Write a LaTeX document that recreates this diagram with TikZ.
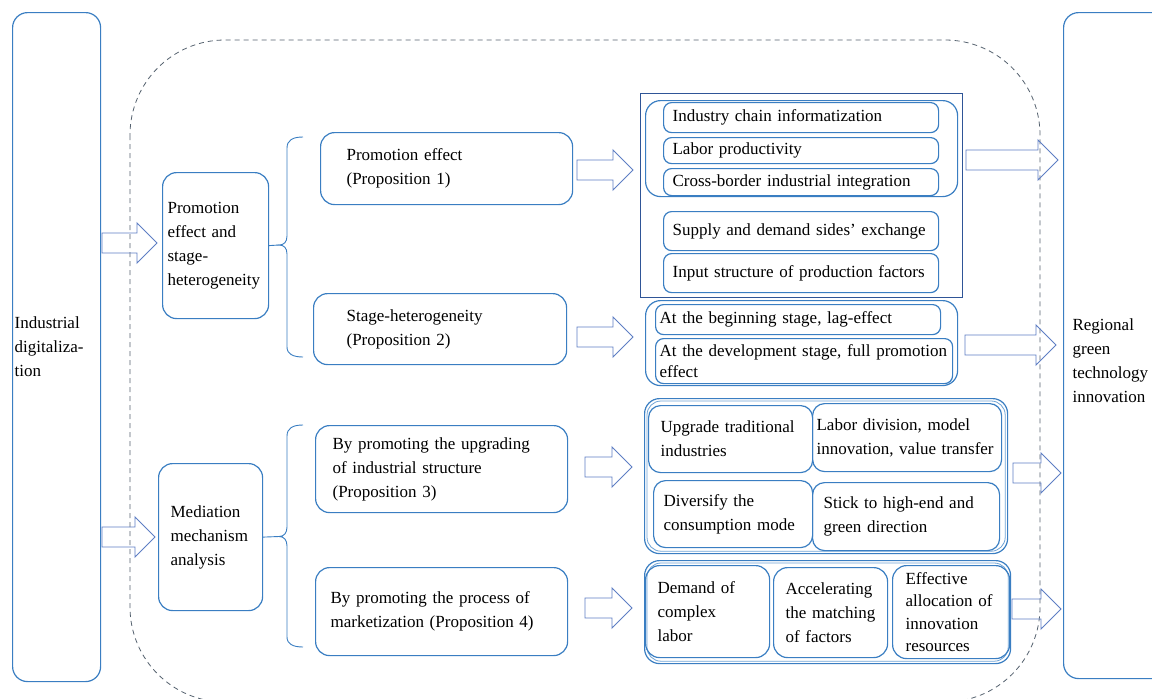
\documentclass[tikz,border=0pt]{standalone}
\usepackage{fontspec}
\setmainfont{Liberation Serif}
\usetikzlibrary{calc}
\definecolor{boxblue}{HTML}{3A7EC2}
\definecolor{boxlight}{HTML}{6FA3D6}
\definecolor{arrblue}{HTML}{5E7EC4}
\definecolor{sqblue}{HTML}{2F5597}
\definecolor{dashgray}{HTML}{55626F}
\newcommand{\dfont}{\hyphenpenalty=10000 \fontsize{17}{24}\selectfont}
\newcommand{\jfont}{\hyphenpenalty=10000 \fontsize{17}{21}\selectfont}
\newcommand{\mfont}{\hyphenpenalty=10000 \fontsize{17}{22.5}\selectfont}
\tikzset{
  bx/.style={draw=boxblue, line width=1.2pt, rounded corners=#1, inner sep=0pt,
             align=left, font=\dfont, text=black, anchor=north west},
  bx/.default=12pt,
  item/.style={bx=#1},
  item/.default=8pt,
  grp/.style={draw=boxblue, line width=1.2pt, rounded corners=15pt, inner sep=0pt, anchor=north west},
  blk/.style={draw=arrblue, line width=0.9pt,
    to path={let \p1=(\tikztostart), \p2=(\tikztotarget) in
      (\x1,\y1+10pt) -- (\x2-20pt,\y1+10pt) -- (\x2-20pt,\y1+20pt) -- (\x2,\y1)
      -- (\x2-20pt,\y1-20pt) -- (\x2-20pt,\y1-10pt) -- (\x1,\y1-10pt) -- cycle}},
  brc/.style={draw=boxblue, line width=0.9pt},
}
\begin{document}
\begin{tikzpicture}[x=1pt,y=-1pt]
\useasboundingbox (0,0) rectangle (1152,699);
\clip (0,0) rectangle (1152,699);
\fill[white] (0,0) rectangle (1152,699);

% dashed region
\draw[dashgray, line width=0.8pt, dash pattern=on 5pt off 4pt, rounded corners=95pt]
  (130,40) rectangle (1040,702);

% outer boxes
\node[bx=15pt, minimum width=88pt, minimum height=669pt, text width=84pt] (L) at (12,12)
  {Industrial\\digitaliza-\\tion};
\node[bx=15pt, minimum width=120pt, minimum height=666pt, text width=102pt] (R) at (1063,12)
  {\rule{0pt}{41pt}Regional\\green\\technology\\innovation};

% second level
\node[bx=14pt, minimum width=106pt, minimum height=146pt, text width=96pt] (A) at (162,172)
  {Promotion\\effect and\\stage-\\heterogeneity};
\node[bx=14pt, minimum width=104pt, minimum height=147pt, text width=80pt] (B) at (158,463)
  {Mediation\\mechanism\\analysis};

% propositions
\node[bx=14pt, minimum width=252pt, minimum height=72pt, text width=200pt] (P1) at (320,132)
  {Promotion effect\\(Proposition 1)};
\node[bx=14pt, minimum width=253pt, minimum height=71pt, text width=187pt] (P2) at (313,293)
  {Stage-heterogeneity\\(Proposition 2)};
\node[bx=14pt, minimum width=252pt, minimum height=87pt, text width=218pt] (P3) at (315,425)
  {By promoting the upgrading\\of industrial structure\\(Proposition 3)};
\node[bx=14pt, minimum width=252pt, minimum height=88pt, text width=222pt] (P4) at (315,567)
  {By promoting the process of\\marketization (Proposition 4)};

% group 1
\node[draw=sqblue, line width=0.9pt, inner sep=0pt, anchor=north west,
      minimum width=322pt, minimum height=204pt] (SQ) at (640,93) {};
\node[grp, minimum width=312pt, minimum height=96pt] (G1) at (645,100) {};
\node[item, minimum width=275pt, minimum height=30pt, text width=257pt] (I1) at (663,102)
  {Industry chain informatization};
\node[item, minimum width=275pt, minimum height=26pt, text width=257pt] (I2) at (663,137)
  {Labor productivity};
\node[item, minimum width=275pt, minimum height=27pt, text width=257pt] (I3) at (663,168)
  {Cross-border industrial integration};
\node[item, minimum width=275pt, minimum height=39pt, text width=257pt] (I4) at (663,211)
  {Supply and demand sides’ exchange};
\node[item, minimum width=275pt, minimum height=39pt, text width=257pt] (I5) at (663,253)
  {Input structure of production factors};

% group 2
\node[grp, minimum width=312pt, minimum height=85pt] (G2) at (645,300) {};
\node[item, minimum width=285pt, minimum height=30pt, text width=277pt] (J1) at (655,304)
  {At the beginning stage, lag-effect};
\node[item, minimum width=297pt, minimum height=45pt, text width=289pt, font=\jfont] (J2) at (655,338)
  {At the development stage, full promotion\\effect};

% group 3
\node[grp, minimum width=363pt, minimum height=155pt] (G3) at (644,398) {};
\draw[boxlight, line width=0.8pt, rounded corners=14pt]
  ([shift={(3pt,3pt)}]G3.south west) rectangle ([shift={(-3pt,-3pt)}]G3.north east);
\node[item=12pt, minimum width=164pt, minimum height=67pt, text width=140pt] (U1) at (648,405)
  {Upgrade traditional\\industries};
\node[item=12pt, minimum width=189pt, minimum height=68pt, text width=181pt] (U2) at (812,403)
  {Labor division, model\\innovation, value transfer};
\node[item=12pt, minimum width=159pt, minimum height=67pt, text width=139pt] (U3) at (653,480)
  {Diversify the\\consumption mode};
\node[item=12pt, minimum width=187pt, minimum height=68pt, text width=165pt] (U4) at (812,482)
  {Stick to high-end and\\green direction};

% group 4
\node[grp, minimum width=366pt, minimum height=103pt] (G4) at (644,560) {};
\draw[boxlight, line width=0.8pt, rounded corners=14pt]
  ([shift={(3pt,3pt)}]G4.south west) rectangle ([shift={(-3pt,-3pt)}]G4.north east);
\node[item=14pt, minimum width=124pt, minimum height=92pt, text width=100pt] (M1) at (645,565)
  {Demand of\\complex\\labor};
\node[item=14pt, minimum width=114pt, minimum height=90pt, text width=90pt] (M2) at (773,567)
  {Accelerating\\the matching\\of factors};
\node[item=14pt, minimum width=117pt, minimum height=93pt, text width=91pt, font=\mfont] (M3) at (892,565)
  {Effective\\allocation of\\innovation\\resources};

% braces
\coordinate (b1m) at (279,245);
\coordinate (b2m) at (279,536.5);
\draw[brc] (303,137) .. controls (293,137) and (287,140) .. (287,148) -- (287,236)
  .. controls (287,242) and (284,245) .. (b1m)
  .. controls (284,245) and (287,248) .. (287,254) -- (287,347)
  .. controls (287,354) and (293,357) .. (303,357);
\draw[brc] (A.east) -- (b1m);
\draw[brc] (303,425) .. controls (293,425) and (287,428) .. (287,436) -- (287,527)
  .. controls (287,533) and (284,536.5) .. (b2m)
  .. controls (284,536.5) and (287,540) .. (287,546) -- (287,637)
  .. controls (287,644) and (293,647) .. (303,647);
\draw[brc] (B.east) -- (b2m);

% block arrows
\coordinate (aAs) at (102,243);   \coordinate (aAe) at (157,243);
\coordinate (aBs) at (102,537);   \coordinate (aBe) at (155,537);
\coordinate (a1s) at (577,170);   \coordinate (a1e) at (633,170);
\coordinate (a2s) at (577,337);   \coordinate (a2e) at (633,337);
\coordinate (a3s) at (585,467);   \coordinate (a3e) at (632,467);
\coordinate (a4s) at (585,608);   \coordinate (a4e) at (632,608);
\coordinate (r1s) at (966,160);   \coordinate (r1e) at (1058,160);
\coordinate (r2s) at (965,345);   \coordinate (r2e) at (1056,345);
\coordinate (r3s) at (1013,473);  \coordinate (r3e) at (1061,473);
\coordinate (r4s) at (1012,609);  \coordinate (r4e) at (1061,609);
\draw[blk] (aAs) to (aAe);
\draw[blk] (aBs) to (aBe);
\draw[blk] (a1s) to (a1e);
\draw[blk] (a2s) to (a2e);
\draw[blk] (a3s) to (a3e);
\draw[blk] (a4s) to (a4e);
\draw[blk] (r1s) to (r1e);
\draw[blk] (r2s) to (r2e);
\draw[blk] (r3s) to (r3e);
\draw[blk] (r4s) to (r4e);
\end{tikzpicture}
\end{document}
